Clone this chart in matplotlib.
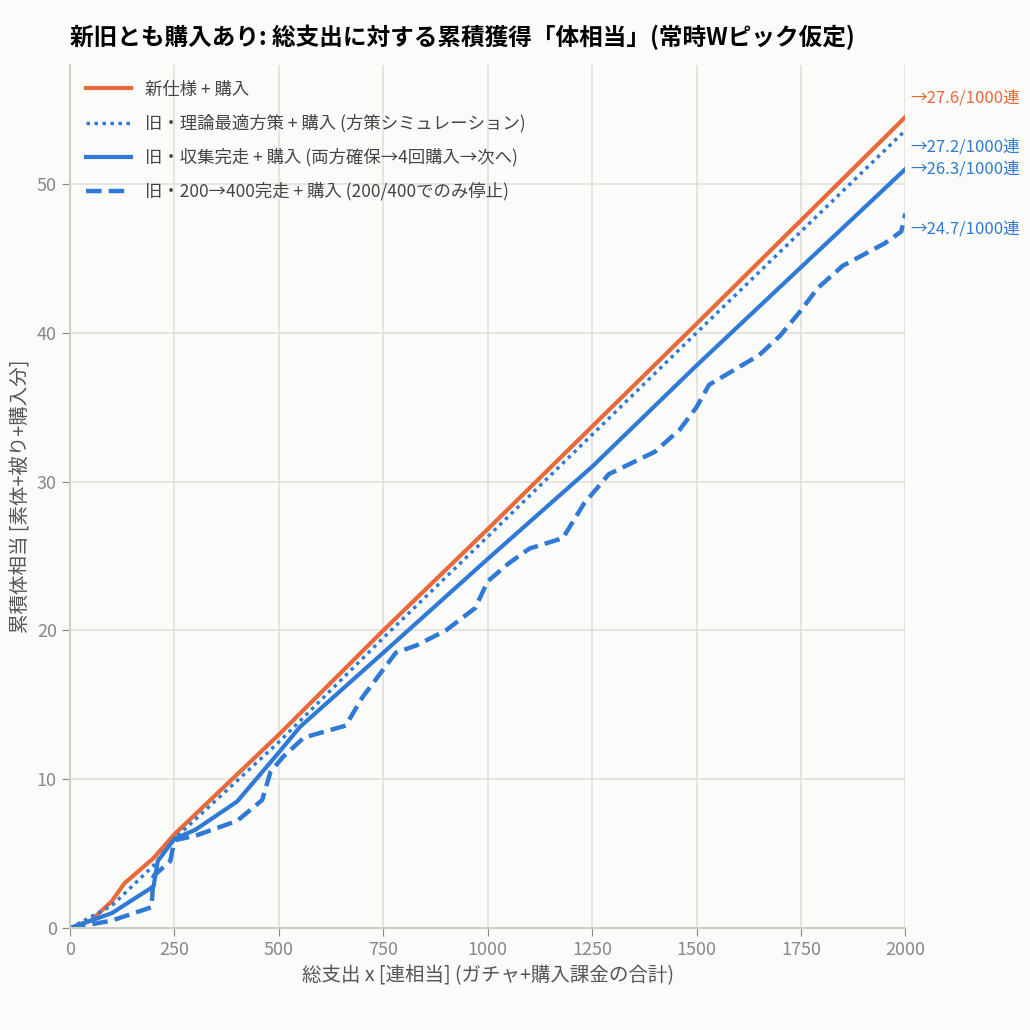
import matplotlib
matplotlib.use("Agg")
import matplotlib.pyplot as plt

plt.rcParams['font.family'] = ['Noto Sans CJK JP', 'DejaVu Sans']

new_x = [0, 50, 100, 130, 200, 250, 500, 750, 1000, 1250, 1500, 2000]
new_y = [0, 0.5, 1.8, 3.0, 4.7, 6.3, 13.0, 20.0, 26.8, 33.7, 40.6, 54.5]
opt_x = [0, 100, 200, 250, 500, 750, 1000, 1500, 2000]
opt_y = [0, 1.5, 4.2, 6.0, 12.5, 19.5, 26.3, 40.0, 53.6]
col_x = [0, 100, 200, 210, 250, 300, 400, 500, 550, 750, 1000, 1250, 1500, 2000]
col_y = [0, 1.0, 2.8, 4.5, 6.0, 6.6, 8.5, 11.8, 13.5, 18.5, 24.8, 31.0, 37.8, 51.0]
stp_x = [0, 100, 195, 200, 240, 250, 300, 400, 460, 480, 510, 560, 660, 700, 740, 780, 830,
         900, 970, 1000, 1050, 1100, 1180, 1230, 1290, 1400, 1460, 1500, 1530, 1650, 1700,
         1750, 1790, 1850, 1950, 1990, 2000]
stp_y = [0, 0.5, 1.4, 3.5, 4.5, 5.9, 6.2, 7.2, 8.6, 10.5, 11.5, 12.8, 13.6, 15.5, 17.0, 18.5,
         19.0, 20.0, 21.5, 23.3, 24.5, 25.5, 26.2, 28.5, 30.5, 32.0, 33.5, 35.0, 36.5, 38.5,
         39.8, 41.5, 43.0, 44.5, 46.0, 46.8, 48.0]
end_labels = ["→27.6/1000連", "→27.2/1000連", "→26.3/1000連", "→24.7/1000連"]
end_pos = [55.8, 52.5, 51.0, 47.0]
names = ["新仕様 + 購入", "旧・理論最適方策 + 購入 (方策シミュレーション)",
         "旧・収集完走 + 購入 (両方確保→4回購入→次へ)", "旧・200→400完走 + 購入 (200/400でのみ停止)"]

orange = "#e8693a"
blue = "#2f7ad6"
fig, ax = plt.subplots(figsize=(10.3, 10.3), dpi=100)
fig.patch.set_facecolor("#fbfbf9")
ax.set_facecolor("#fbfbf9")
ax.plot(new_x, new_y, color=orange, lw=3, label=names[0])
ax.plot(opt_x, opt_y, color=blue, lw=2.5, ls=(0, (1, 1.3)), label=names[1])
ax.plot(col_x, col_y, color=blue, lw=3, label=names[2])
ax.plot(stp_x, stp_y, color=blue, lw=3.2, ls=(0, (3.5, 1.6)), label=names[3])
cols = [orange, blue, blue, blue]
for t, p, c in zip(end_labels, end_pos, cols):
    ax.text(2012, p, t, color=c, fontsize=12, va="center", ha="left", clip_on=False)
ax.set_xlim(0, 2000)
ax.set_ylim(0, 58)
ax.set_xticks([0, 250, 500, 750, 1000, 1250, 1500, 1750, 2000])
ax.set_yticks([0, 10, 20, 30, 40, 50])
ax.grid(True, color="#e2e0d8", lw=1.2)
ax.set_axisbelow(True)
for s in ["top", "right"]:
    ax.spines[s].set_visible(False)
for s in ["left", "bottom"]:
    ax.spines[s].set_color("#cfcdc4")
    ax.spines[s].set_linewidth(1.5)
ax.tick_params(colors="#888888", labelsize=13, length=6)
ax.set_xlabel("総支出 x [連相当] (ガチャ+購入課金の合計)", fontsize=14, color="#555555")
ax.set_ylabel("累積体相当 [素体+被り+購入分]", fontsize=14, color="#555555")
ax.set_title("新旧とも購入あり: 総支出に対する累積獲得「体相当」(常時Wピック仮定)",
             fontsize=17, fontweight="bold", loc="left", x=0.0, pad=14)
leg = ax.legend(loc="upper left", frameon=False, fontsize=12.5, handlelength=2.6,
                labelspacing=0.9)
for t in leg.get_texts():
    t.set_color("#444444")
plt.subplots_adjust(left=0.068, right=0.879, bottom=0.099, top=0.937)
fig.savefig("out.png", dpi=100, facecolor=fig.get_facecolor())
